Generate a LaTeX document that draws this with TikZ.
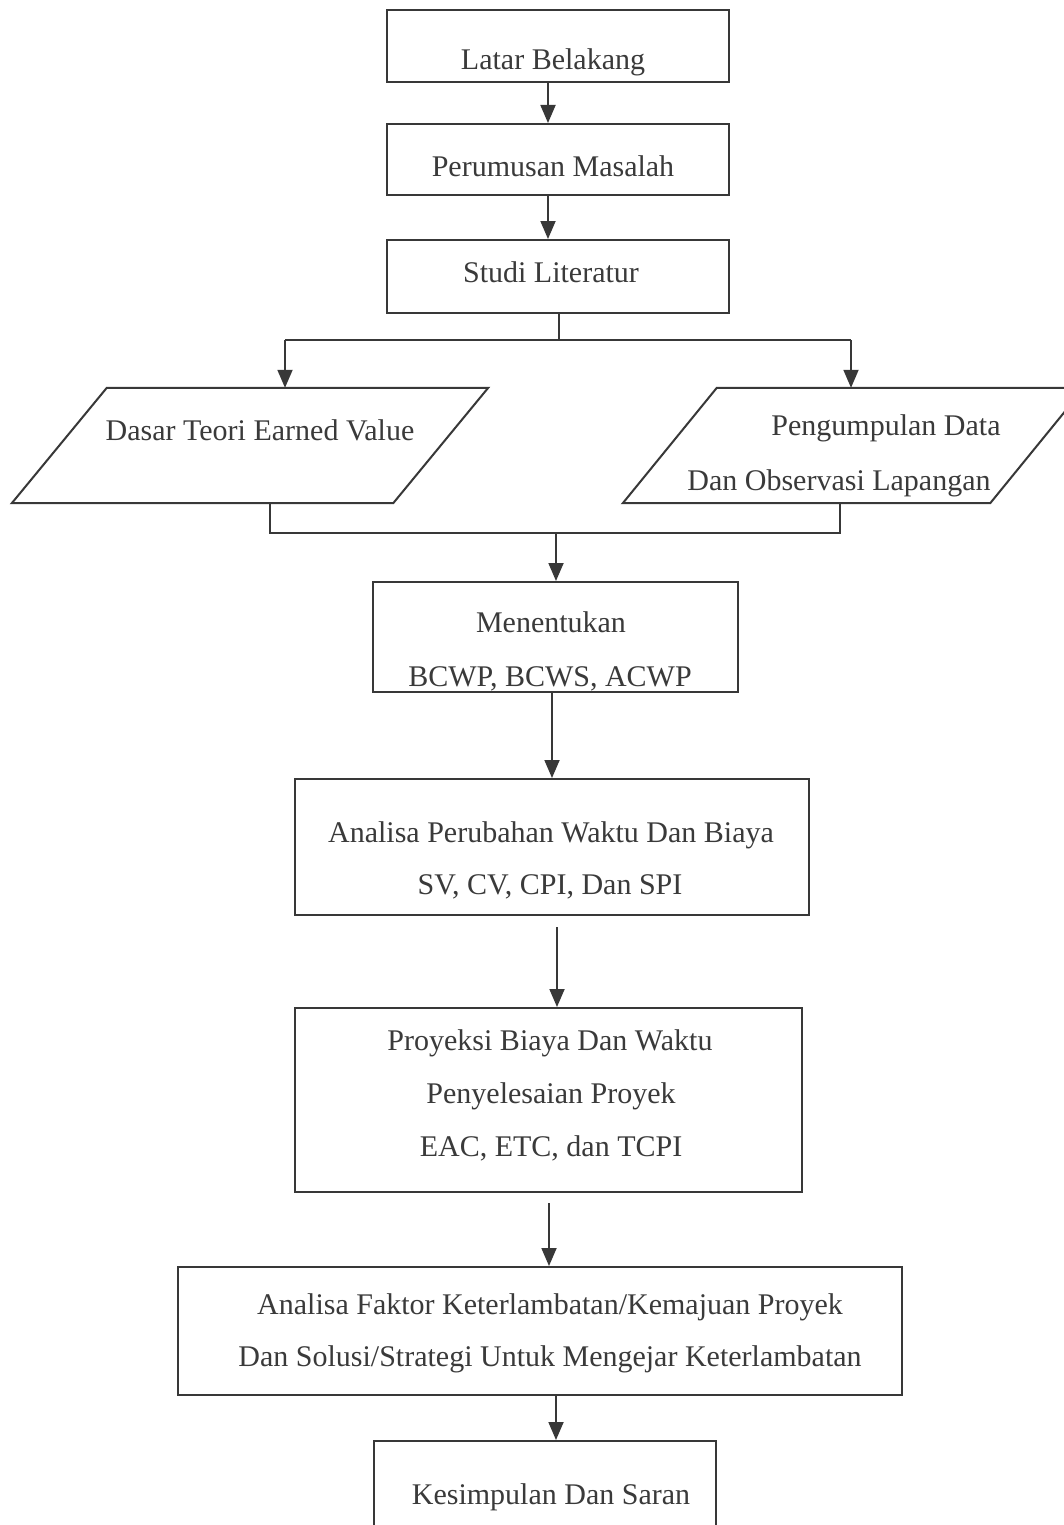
\documentclass[tikz,border=0pt]{standalone}
\usepackage{fontspec}
\setmainfont{Liberation Serif}
\usetikzlibrary{arrows.meta}
\definecolor{linegray}{HTML}{383838}
\definecolor{textgray}{HTML}{3A3A3A}
\begin{document}
\begin{tikzpicture}[x=1pt,y=-1pt,
  box/.style={draw=linegray,line width=2pt,rectangle,inner sep=0pt,fill=none},
  pbox/.style={draw=none,rectangle,inner sep=0pt},
  pline/.style={draw=linegray,line width=2pt,line join=miter},
  txt/.style={font=\fontsize{30}{36}\selectfont,text=textgray,anchor=base,inner sep=0pt},
  conn/.style={draw=linegray,line width=1.8pt},
  arr/.style={conn,-{Triangle[length=18pt,width=15pt]}}]
\useasboundingbox (0,0) rectangle (1064,1525);
\fill[white] (0,0) rectangle (1064,1525);

% rectangular boxes
\node[box,minimum width=342pt,minimum height=72pt] (latar) at (558,46) {};
\node[box,minimum width=342pt,minimum height=71pt] (rumus) at (558,159.5) {};
\node[box,minimum width=342pt,minimum height=73pt] (studi) at (558,276.5) {};
\node[box,minimum width=365pt,minimum height=110pt] (menentukan) at (555.5,637) {};
\node[box,minimum width=514pt,minimum height=136pt] (analisa) at (552,847) {};
\node[box,minimum width=507pt,minimum height=184pt] (proyeksi) at (548.5,1100) {};
\node[box,minimum width=724pt,minimum height=128pt] (faktor) at (540,1331) {};
\node[box,minimum width=342pt,minimum height=104pt] (simpul) at (545,1493) {};

% parallelograms
\node[pbox,minimum width=381pt,minimum height=115pt] (dasar) at (250,445.5) {};
\draw[pline] ([xshift=47.5pt]dasar.north west) -- ([xshift=47.5pt]dasar.north east)
  -- ([xshift=-47.5pt]dasar.south east) -- ([xshift=-47.5pt]dasar.south west) -- cycle;
\node[pbox,minimum width=367pt,minimum height=115pt] (peng) at (853.5,445.5) {};
\draw[pline] ([xshift=47pt]peng.north west) -- ([xshift=47pt]peng.north east)
  -- ([xshift=-47pt]peng.south east) -- ([xshift=-47pt]peng.south west) -- cycle;

% texts
\node[txt] (t1) at (553,70) {Latar Belakang};
\node[txt] (t2) at (553,177) {Perumusan Masalah};
\node[txt] (t3) at (551,282) {Studi Literatur};
\node[txt] (t4) at (260,440) {Dasar Teori Earned Value};
\node[txt] (t5a) at (886,435) {Pengumpulan Data};
\node[txt] (t5b) at (839,490) {Dan Observasi Lapangan};
\node[txt] (t6a) at (551,632) {Menentukan};
\node[txt] (t6b) at (550,686) {BCWP, BCWS, ACWP};
\node[txt] (t7a) at (551,842) {Analisa Perubahan Waktu Dan Biaya};
\node[txt] (t7b) at (550,894) {SV, CV, CPI, Dan SPI};
\node[txt] (t8a) at (550,1050) {Proyeksi Biaya Dan Waktu};
\node[txt] (t8b) at (551,1103) {Penyelesaian Proyek};
\node[txt] (t8c) at (551,1156) {EAC, ETC, dan TCPI};
\node[txt] (t9a) at (550,1314) {Analisa Faktor Keterlambatan/Kemajuan Proyek};
\node[txt] (t9b) at (550,1366) {Dan Solusi/Strategi Untuk Mengejar Keterlambatan};
\node[txt] (t10) at (551,1504) {Kesimpulan Dan Saran};

% connectors
\draw[arr] ([xshift=-10pt]latar.south) -- ([xshift=-10pt]rumus.north);
\draw[arr] ([xshift=-10pt]rumus.south) -- ([xshift=-10pt]studi.north);

\coordinate (jl) at (285,340);
\coordinate (jr) at (851,340);
\draw[conn] ([xshift=1pt]studi.south) -- ([xshift=1pt]studi.south |- jl);
\draw[conn] (jl) -- (jr);
\draw[arr] (jl) -- (jl |- dasar.north);
\draw[arr] (jr) -- (jr |- peng.north);

\coordinate (ml) at (270,533);
\coordinate (mr) at (840,533);
\coordinate (mm) at (556,533);
\draw[conn] (ml |- dasar.south) -- (ml) -- (mr) -- (mr |- peng.south);
\draw[arr] (mm) -- (mm |- menentukan.north);

\draw[arr] ([xshift=-3.5pt]menentukan.south) -- (analisa.north);
\draw[arr] ([xshift=5pt,yshift=-11pt]analisa.south) -- ([xshift=8.5pt]proyeksi.north);
\draw[arr] ([xshift=0.5pt,yshift=-10pt]proyeksi.south) -- ([xshift=9pt]faktor.north);
\draw[arr] ([xshift=16pt]faktor.south) -- ([xshift=11pt]simpul.north);
\end{tikzpicture}
\end{document}
